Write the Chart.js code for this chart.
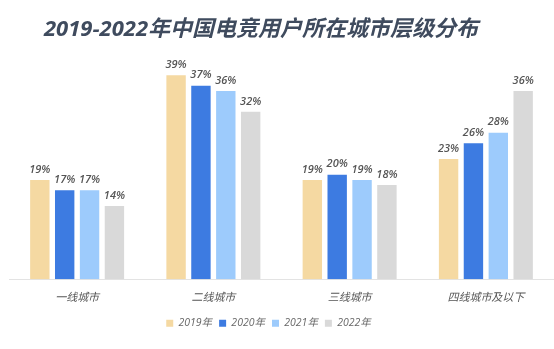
<!DOCTYPE html>
<html>
<head>
<meta charset="utf-8">
<script src="https://cdn.jsdelivr.net/npm/chart.js@4/dist/chart.umd.min.js"></script>
<style>
  html, body { margin: 0; padding: 0; background: #fff; }
  #wrap { width: 554px; height: 349px; position: relative; }
</style>
</head>
<body>
<div id="wrap"><canvas id="myChart"></canvas></div>
<script>
const categories = ["一线城市", "二线城市", "三线城市", "四线城市及以下"];
const years = ["2019年", "2020年", "2021年", "2022年"];
const v2019 = [19, 39, 19, 23];
const v2020 = [17, 37, 20, 26];
const v2021 = [17, 36, 19, 28];
const v2022 = [14, 32, 18, 36];
const colors = ["#F5D9A2", "#3D7BE1", "#9DCBFC", "#D9D9D9"];
const titleText = "2019-2022年中国电竞用户所在城市层级分布";

const FONT = "'Open Sans', 'Noto Sans CJK SC', sans-serif";

// value labels above each bar + the heading
const barLabels = {
	id: "barLabels",
	afterLayout(chart) {
		// legend sits a bit left of centre in the original
		chart.legend.left -= 13;
		chart.legend.right -= 13;
	},
	afterDatasetsDraw(chart) {
		const ctx = chart.ctx;
		ctx.save();
		ctx.font = "italic 600 11px " + FONT;
		ctx.fillStyle = "#555555";
		ctx.textAlign = "center";
		ctx.textBaseline = "bottom";
		chart.data.datasets.forEach((ds, i) => {
			chart.getDatasetMeta(i).data.forEach((bar, j) => {
				ctx.fillText(ds.data[j] + "%", bar.x, bar.y - 5);
			});
		});
		ctx.font = "italic bold 22px " + FONT;
		ctx.fillStyle = "#3F4B5E";
		ctx.textBaseline = "middle";
		ctx.fillText(titleText, 261, 30);
		ctx.restore();
	}
};

const allSeries = [v2019, v2020, v2021, v2022];

new Chart(document.getElementById("myChart"), {
	type: "bar",
	data: {
		labels: categories,
		datasets: allSeries.map((d, i) => ({
			label: years[i],
			data: d,
			backgroundColor: colors[i],
			borderWidth: 0,
			categoryPercentage: 0.73,
			barPercentage: 0.78
		}))
	},
	options: {
		responsive: true,
		maintainAspectRatio: false,
		animation: false,
		layout: { padding: { left: 9, right: 0, top: 70, bottom: 10.5 } },
		plugins: {
			legend: {
				position: "bottom",
				labels: {
					boxWidth: 7,
					boxHeight: 7,
					padding: 7,
					color: "#666666",
					font: { family: FONT, size: 10.5, style: "italic" }
				}
			},
			tooltip: { enabled: false }
		},
		scales: {
			x: {
				grid: { display: false, drawTicks: false },
				border: { color: "#E3E3E3", width: 1 },
				ticks: {
					color: "#555555",
					padding: 12,
					font: { family: FONT, size: 11, style: "italic" }
				},
				afterFit(scale) { scale.height -= 5.5; }
			},
			y: {
				min: 0,
				max: 40,
				display: false
			}
		}
	},
	plugins: [barLabels]
});
</script>
</body>
</html>
